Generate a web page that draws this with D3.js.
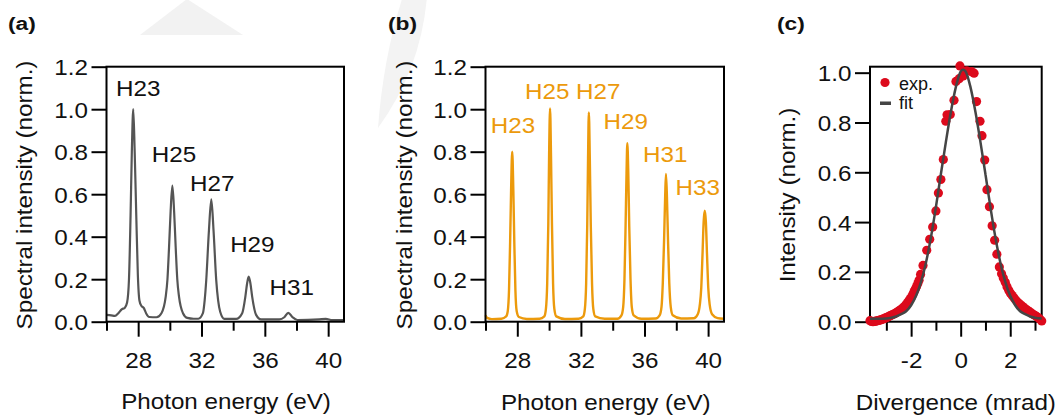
<!DOCTYPE html>
<html>
<head>
<meta charset="utf-8">
<script src="https://cdn.jsdelivr.net/npm/d3@7"></script>
<style>
  html, body { margin: 0; padding: 0; background: #fff; }
  svg { display: block; }
</style>
</head>
<body>
<svg id="fig" width="1060" height="416"></svg>
<script>
// ---------- data ----------
// (a) measured harmonic spectrum: [photon energy (eV), normalised intensity]
const spectrumA = [
  [26.0,0.032],[26.3,0.030],[26.53,0.027],[26.75,0.040],[26.96,0.058],[27.16,0.066],
  [27.3,0.090],[27.42,0.20],[27.52,0.50],[27.6,0.80],[27.69,1.0],[27.78,0.80],
  [27.88,0.50],[27.98,0.22],[28.08,0.10],[28.2,0.075],[28.35,0.065],[28.5,0.040],
  [28.7,0.022],[29.16,0.021],[29.47,0.040],[29.74,0.118],[29.85,0.20],[29.95,0.35],
  [30.05,0.52],[30.16,0.64],[30.27,0.52],[30.37,0.35],[30.47,0.20],[30.58,0.118],
  [30.83,0.040],[31.1,0.018],[31.5,0.014],[31.8,0.014],[32.09,0.040],[32.2,0.10],
  [32.3,0.196],[32.47,0.43],[32.62,0.576],[32.76,0.43],[32.93,0.196],[33.05,0.10],
  [33.18,0.047],[33.45,0.013],[34.19,0.013],[34.57,0.040],[34.77,0.118],[34.88,0.18],
  [34.98,0.212],[35.09,0.18],[35.2,0.118],[35.45,0.032],[35.76,0.011],[36.91,0.011],
  [37.23,0.021],[37.48,0.042],[37.75,0.021],[38.06,0.008],[39.43,0.011],[39.85,0.013],
  [40.26,0.008],[40.94,0.008]
];
const harmonicsA = ["H23", "H25", "H27", "H29", "H31"];

// (b) simulated harmonic spectrum
const spectrumB = [
  [26.0,0.030],[26.1,0.018],[26.4,0.012],[27.0,0.014],[27.3,0.025],[27.4,0.05],
  [27.48,0.15],[27.55,0.38],[27.61,0.62],[27.68,0.80],[27.75,0.62],[27.81,0.38],
  [27.88,0.15],[27.96,0.05],[28.1,0.022],[28.6,0.013],[29.4,0.014],[29.7,0.025],
  [29.8,0.06],[29.88,0.18],[29.95,0.46],[30.0,0.78],[30.06,1.004],[30.12,0.78],
  [30.18,0.46],[30.25,0.18],[30.33,0.06],[30.45,0.025],[31.0,0.013],[31.85,0.014],
  [32.15,0.025],[32.25,0.06],[32.33,0.18],[32.4,0.46],[32.45,0.77],[32.5,0.985],
  [32.56,0.77],[32.62,0.46],[32.7,0.18],[32.78,0.06],[32.9,0.025],[33.5,0.014],
  [34.3,0.014],[34.55,0.03],[34.66,0.07],[34.74,0.20],[34.81,0.45],[34.87,0.70],
  [34.92,0.84],[34.98,0.70],[35.04,0.45],[35.12,0.20],[35.2,0.07],[35.32,0.03],
  [35.8,0.014],[36.7,0.015],[36.95,0.03],[37.07,0.07],[37.15,0.18],[37.23,0.38],
  [37.3,0.59],[37.35,0.695],[37.41,0.59],[37.48,0.38],[37.56,0.18],[37.65,0.07],
  [37.78,0.03],[38.3,0.015],[39.1,0.016],[39.35,0.035],[39.48,0.08],[39.57,0.16],
  [39.65,0.32],[39.72,0.47],[39.79,0.522],[39.86,0.47],[39.93,0.32],[40.01,0.16],
  [40.1,0.08],[40.25,0.035],[40.6,0.017],[41.0,0.014]
];
const harmonicsB = ["H23", "H25", "H27", "H29", "H31", "H33"];

// (c) divergence profile: [divergence (mrad), normalised intensity]
const profileExp = [
  [-3.66,0.004],[-3.6,0.001],[-3.54,0.0],[-3.48,0.001],[-3.42,0.002],[-3.36,0.004],
  [-3.3,0.005],[-3.24,0.007],[-3.18,0.009],[-3.12,0.011],[-3.06,0.014],[-3.0,0.016],
  [-2.94,0.019],[-2.88,0.022],[-2.82,0.025],[-2.76,0.028],[-2.7,0.031],[-2.64,0.034],
  [-2.58,0.038],[-2.52,0.042],[-2.46,0.046],[-2.4,0.050],[-2.34,0.055],[-2.28,0.060],
  [-2.22,0.067],[-2.16,0.075],[-2.1,0.083],[-2.04,0.092],[-1.98,0.100],[-1.93,0.110],
  [-1.88,0.121],[-1.83,0.131],[-1.78,0.141],[-1.73,0.153],[-1.68,0.166],[-1.62,0.190],
  [-1.52,0.226],[-1.37,0.287],[-1.25,0.331],[-1.13,0.380],[-1.0,0.445],[-0.9,0.517],
  [-0.8,0.571],[-0.7,0.651],[-0.6,0.805],[-0.55,0.831],[-0.42,0.832],[-0.27,0.889],
  [-0.19,0.965],[-0.06,0.976],[-0.03,1.027],[0.1,0.987],[0.24,1.007],[0.44,1.004],
  [0.54,0.998],[0.64,0.884],[0.78,0.805],[0.86,0.747],[0.97,0.649],[1.06,0.530],
  [1.16,0.462],[1.27,0.385],[1.37,0.327],[1.46,0.271],[1.56,0.220],[1.65,0.193],
  [1.72,0.175],[1.8,0.158],[1.87,0.140],[1.94,0.126],[2.01,0.114],[2.08,0.105],
  [2.15,0.096],[2.22,0.087],[2.29,0.079],[2.36,0.073],[2.43,0.067],[2.5,0.061],
  [2.57,0.055],[2.64,0.050],[2.71,0.045],[2.78,0.040],[2.85,0.035],[2.92,0.030],
  [2.99,0.026],[3.06,0.021],[3.13,0.016],[3.2,0.010],[3.27,0.003]
];
const profileFit = [
  [-3.66,0.012],[-3.3,0.012],[-3.0,0.013],[-2.8,0.016],[-2.6,0.021],[-2.4,0.030],
  [-2.2,0.042],[-2.0,0.066],[-1.8,0.104],[-1.6,0.160],[-1.4,0.238],[-1.2,0.339],
  [-1.0,0.460],[-0.8,0.592],[-0.6,0.720],[-0.4,0.840],[-0.2,0.940],[0.0,1.005],
  [0.1,1.012],[0.2,1.005],[0.4,0.940],[0.6,0.840],[0.8,0.720],[1.0,0.592],
  [1.2,0.460],[1.4,0.339],[1.6,0.238],[1.8,0.160],[2.0,0.104],[2.2,0.066],
  [2.4,0.042],[2.6,0.030],[2.8,0.021],[3.0,0.016],[3.27,0.013]
];
const legendLabels = ["exp.", "fit"];

// tick values
const energyMajor = [28, 32, 36, 40];
const energyMinor = [26, 30, 34, 38];
const intensityTicks = [0, 0.2, 0.4, 0.6, 0.8, 1.0, 1.2];
const divergenceMajor = [-2, 0, 2];
const divergenceMinor = [-3, -1, 1, 3];
const profileTicks = [0, 0.2, 0.4, 0.6, 0.8, 1.0];

// ---------- drawing ----------
const FONT = '"Liberation Sans", Arial, Helvetica, sans-serif';
const FS = 22;        // main font size
const WIDEN = 1.1;    // horizontal widening of the lettering
const GREY = "#555555";
const ORANGE = "#ec9a0c";
const RED = "#dc0a1c";
const svg = d3.select("#fig");

// faint background shapes
svg.append("path").attr("d", "M140,35 L243,35 L187,-1 Z").attr("fill", "#f2f2f2");
svg.append("path").attr("d", "M401.7,0 L426.7,0 Q420,70 378,128 Q383,60 401.7,0 Z").attr("fill", "#f3f3f3");

const boxes = {
  a: { x0: 106.5, x1: 344, y0: 66.7, y1: 321.7 },
  b: { x0: 485.5, x1: 724, y0: 66.7, y1: 321.7 },
  c: { x0: 870, x1: 1041.7, y0: 66.7, y1: 321.7 }
};

// move x/y of each text into a transform so the glyphs can be widened
function widen(sel, k) {
  sel.each(function () {
    const t = d3.select(this);
    const x = +t.attr("x") || 0, y = +t.attr("y") || 0;
    t.attr("x", 0).attr("y", 0).attr("transform", `translate(${x},${y}) scale(${k},1)`);
  });
}

function drawAxes(box, x, y, xMajor, xMinor, yTicks) {
  const g = svg.append("g");
  const ya = g.append("g").attr("transform", `translate(${box.x0},0)`)
    .call(d3.axisLeft(y).tickValues(yTicks).tickSize(15).tickPadding(3.5).tickFormat(d3.format(".1f")));
  ya.select(".domain").remove();
  ya.selectAll("line").attr("stroke", "#000").attr("stroke-width", 2);
  ya.selectAll("text").attr("font-size", FS).attr("font-family", FONT).attr("fill", "#111").attr("dy", "0.36em");
  widen(ya.selectAll("text"), WIDEN);

  const xm = g.append("g").attr("transform", `translate(0,${box.y1})`)
    .call(d3.axisBottom(x).tickValues(xMinor).tickSize(9).tickFormat(""));
  xm.select(".domain").remove();
  xm.selectAll("line").attr("stroke", "#000").attr("stroke-width", 2);

  const xa = g.append("g").attr("transform", `translate(0,${box.y1})`)
    .call(d3.axisBottom(x).tickValues(xMajor).tickSize(15).tickFormat(d => String(d)));
  xa.select(".domain").remove();
  xa.selectAll("line").attr("stroke", "#000").attr("stroke-width", 2);
  xa.selectAll("text").attr("y", 46.5).attr("dy", null)
    .attr("font-size", FS).attr("font-family", FONT).attr("fill", "#111");
  widen(xa.selectAll("text"), WIDEN);
  return g;
}

function drawFrame(box) {
  svg.append("rect")
    .attr("x", box.x0).attr("y", box.y0)
    .attr("width", box.x1 - box.x0).attr("height", box.y1 - box.y0)
    .attr("fill", "none").attr("stroke", "#000").attr("stroke-width", 2);
}

function text(x, y, str, opts = {}) {
  const k = opts.k || WIDEN;
  const rot = opts.rotate ? " rotate(-90)" : "";
  return svg.append("text")
    .attr("transform", `translate(${x},${y})${rot} scale(${k},1)`)
    .attr("font-family", FONT)
    .attr("font-size", opts.size || FS)
    .attr("font-weight", opts.weight || "normal")
    .attr("fill", opts.fill || "#111")
    .attr("text-anchor", opts.anchor || "middle")
    .text(str);
}

const panelTag = { size: 19, weight: "bold", anchor: "start", k: 1.2 };

// ---- panel (a) ----
{
  const b = boxes.a;
  const x = d3.scaleLinear([26, 41], [b.x0, b.x1]);
  const y = d3.scaleLinear([0, 1.2], [b.y1, b.y0]);
  drawAxes(b, x, y, energyMajor, energyMinor, intensityTicks);
  svg.append("path").datum(spectrumA)
    .attr("d", d3.line().x(d => x(d[0])).y(d => y(d[1])).curve(d3.curveMonotoneX))
    .attr("fill", "none").attr("stroke", GREY).attr("stroke-width", 2.2).attr("stroke-linejoin", "round");
  drawFrame(b);
  const anchors = [[28.0, 1.06], [30.26, 0.753], [32.68, 0.617], [35.21, 0.327], [37.70, 0.125]];
  harmonicsA.forEach((h, i) => text(x(anchors[i][0]), y(anchors[i][1]), h));
  text(32.4, 195, "Spectral intensity (norm.)", { rotate: true });
  text(226, 409, "Photon energy (eV)");
  text(8, 29.5, "(a)", panelTag);
}

// ---- panel (b) ----
{
  const b = boxes.b;
  const x = d3.scaleLinear([26, 41], [b.x0, b.x1]);
  const y = d3.scaleLinear([0, 1.2], [b.y1, b.y0]);
  drawAxes(b, x, y, energyMajor, energyMinor, intensityTicks);
  svg.append("path").datum(spectrumB)
    .attr("d", d3.line().x(d => x(d[0])).y(d => y(d[1])).curve(d3.curveMonotoneX))
    .attr("fill", "none").attr("stroke", ORANGE).attr("stroke-width", 2.4).attr("stroke-linejoin", "round");
  drawFrame(b);
  const anchors = [[27.73, 0.889], [29.88, 1.048], [33.09, 1.048], [34.82, 0.905], [37.3, 0.753], [39.35, 0.596]];
  harmonicsB.forEach((h, i) => text(x(anchors[i][0]), y(anchors[i][1]), h, { fill: ORANGE }));
  text(412, 195, "Spectral intensity (norm.)", { rotate: true });
  text(605.8, 410, "Photon energy (eV)");
  text(388, 29.5, "(b)", panelTag);
}

// ---- panel (c) ----
{
  const b = boxes.c;
  const x = d3.scaleLinear([-3.66, 3.27], [b.x0, b.x1]);
  const y = d3.scaleLinear([0, 1.024], [b.y1, b.y0]);
  drawAxes(b, x, y, divergenceMajor, divergenceMinor, profileTicks);
  drawFrame(b);
  svg.append("g").selectAll("circle").data(profileExp).join("circle")
    .attr("cx", d => x(d[0])).attr("cy", d => y(d[1])).attr("r", 4.6).attr("fill", RED);
  svg.append("path").datum(profileFit)
    .attr("d", d3.line().x(d => x(d[0])).y(d => y(d[1])).curve(d3.curveMonotoneX))
    .attr("fill", "none").attr("stroke", "#454545").attr("stroke-width", 2.5);
  // legend
  svg.append("circle").attr("cx", 885).attr("cy", 82.5).attr("r", 4.6).attr("fill", RED);
  text(899, 89.5, legendLabels[0], { size: 18, anchor: "start", k: 1 });
  svg.append("rect").attr("x", 880).attr("y", 101.5).attr("width", 11).attr("height", 3.5).attr("fill", "#454545");
  text(899, 108.5, legendLabels[1], { size: 18, anchor: "start", k: 1 });
  text(795.4, 195, "Intensity (norm.)", { rotate: true });
  text(955.8, 410, "Divergence (mrad)");
  text(777, 29.5, "(c)", panelTag);
}
</script>
</body>
</html>
